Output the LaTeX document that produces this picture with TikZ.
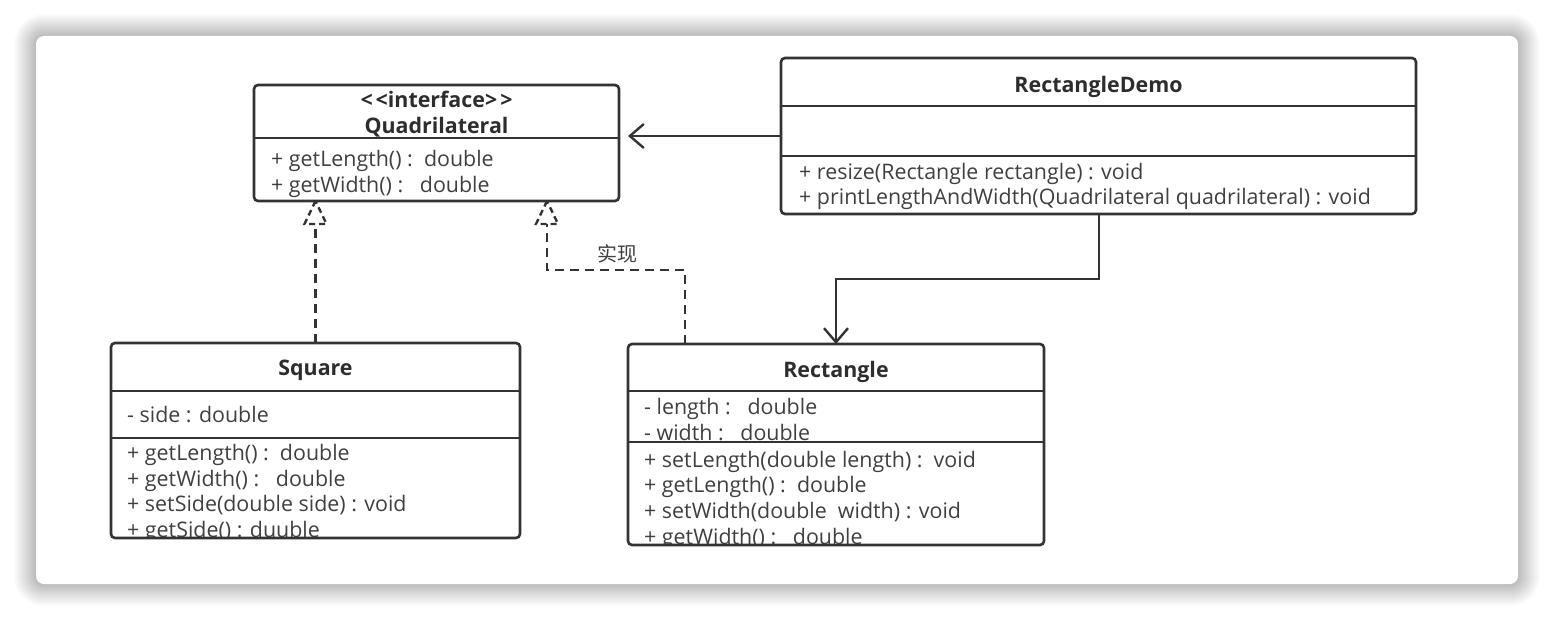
\documentclass[tikz,border=0pt]{standalone}
\usepackage{fontspec}
\setmainfont{Open Sans}
\newfontfamily\cjk{Noto Sans CJK SC}
\usetikzlibrary{arrows.meta}
\definecolor{ln}{HTML}{333333}
\definecolor{tx}{HTML}{404040}
\begin{document}
\begin{tikzpicture}[x=1pt,y=-1pt,
 umlbox/.style={draw=none, fill=white, rounded corners=4pt, anchor=north west, inner sep=0pt, outer sep=0pt},
 boxborder/.style={draw=ln, line width=2.6pt, rounded corners=4pt},
 divider/.style={draw=ln, line width=2.2pt},
 txt/.style={text=tx, font=\fontsize{21.4}{24}\selectfont, anchor=mid west, inner sep=0pt, yshift=-5pt},
 ttl/.style={text=tx!70!black, font=\fontsize{21.4}{24}\selectfont\bfseries, anchor=mid, inner sep=0pt, yshift=-5pt},
 assoc/.style={draw=ln, line width=2.4pt, -{Straight Barb[length=14pt,width=24pt,line width=2.4pt]}},
 realize/.style={draw=ln, line width=2.4pt, dash pattern=on 9pt off 6pt},
 realtip/.style={draw=ln, line width=2.4pt, dash pattern=on 6pt off 4pt, line join=miter},
 lbl/.style={text=tx, font=\cjk\fontsize{20}{22}\selectfont, inner sep=0pt},
]
\useasboundingbox (0,0) rectangle (1554,620);
\fill[white] (0,0) rectangle (1554,620);
% card shadow
\foreach \i in {1,...,22}{
  \fill[black, fill opacity=0.01, rounded corners={8pt+\i pt}] (36-\i,36-\i) rectangle (1518+\i,584+\i);
}
\fill[white, rounded corners=8pt] (36,36) rectangle (1518,584);

% boxes
\node[umlbox, minimum width=365pt, minimum height=116pt] (quad) at (254,85) {};
\node[umlbox, minimum width=635pt, minimum height=156pt] (demo) at (781,58) {};
\node[umlbox, minimum width=409pt, minimum height=195pt] (sq) at (111,343) {};
\node[umlbox, minimum width=416pt, minimum height=201pt] (rect) at (628,344) {};

% Quadrilateral
\node[ttl] (qs) at (quad.north |- 0,100) {{<}\hspace{3pt}{<}interface{>}\hspace{3pt}{>}};
\node[ttl] (qn) at (quad.north |- 0,126) {Quadrilateral};
\draw[divider] (quad.west |- 0,138) -- (quad.east |- 0,138);
\node[txt] (q1) at (271,159) {+ getLength() :\ \ double};
\node[txt] (q2) at (271,185) {+ getWidth() :\ \ \ double};

% RectangleDemo
\node[ttl] (dn) at (demo.north |- 0,85) {RectangleDemo};
\draw[divider] (demo.west |- 0,106) -- (demo.east |- 0,106);
\draw[divider] (demo.west |- 0,156) -- (demo.east |- 0,156);
\node[txt] (d1) at (799,172) {+ resize(Rectangle rectangle) : void};
\node[txt] (d2) at (799,197) {+ printLengthAndWidth(Quadrilateral quadrilateral) : void};

% Square
\node[ttl] (sn) at (sq.north |- 0,368) {Square};
\draw[divider] (sq.west |- 0,391) -- (sq.east |- 0,391);
\node[txt] (s0) at (127,415) {- side : double};
\draw[divider] (sq.west |- 0,438) -- (sq.east |- 0,438);
\begin{scope}
\clip (sq.north west) rectangle (sq.south east);
\node[txt] (s1) at (127,453) {+ getLength() :\ \ double};
\node[txt] (s2) at (127,479) {+ getWidth() :\ \ \ double};
\node[txt] (s3) at (127,504) {+ setSide(double side) : void};
\node[txt] (s4) at (127,530) {+ getSide() : duuble};
\end{scope}

% Rectangle
\node[ttl] (rn) at (rect.north |- 0,370) {Rectangle};
\draw[divider] (rect.west |- 0,391) -- (rect.east |- 0,391);
\node[txt] (r0) at (644,407) {- length :\ \ \ double};
\node[txt] (r1) at (644,433) {- width :\ \ \ double};
\draw[divider] (rect.west |- 0,442) -- (rect.east |- 0,442);
\begin{scope}
\clip (rect.north west) rectangle (rect.south east);
\node[txt] (r2) at (644,460) {+ setLength(double length) :\ \ void};
\node[txt] (r3) at (644,485) {+ getLength() :\ \ double};
\node[txt] (r4) at (644,511) {+ setWidth(double\ \ width) : void};
\node[txt] (r5) at (644,537) {+ getWidth() :\ \ \ double};
\end{scope}

% borders on top
\draw[boxborder] (quad.north west) rectangle (quad.south east);
\draw[boxborder] (demo.north west) rectangle (demo.south east);
\draw[boxborder] (sq.north west) rectangle (sq.south east);
\draw[boxborder] (rect.north west) rectangle (rect.south east);

% associations
\coordinate (qa) at ([xshift=9pt]quad.east |- demo.west);
\draw[assoc] (demo.west) -- (qa);
\coordinate (da) at (1099,214);
\coordinate (db) at (1099,279);
\draw[assoc] (da) -- (db) -- (rect.north |- db) -- (rect.north);

% realizations
\coordinate (t1) at (sq.north |- quad.south);
\draw[realtip] (t1) -- ++(-11,23) -- ++(22,0) -- cycle;
\draw[realize] (sq.north) -- ([yshift=-23pt]t1);
\coordinate (t2) at (547,201);
\coordinate (r2a) at (685,344);
\coordinate (r2b) at (685,270);
\draw[realtip] (t2) -- ++(-11,23) -- ++(22,0) -- cycle;
\draw[realize] (r2a) -- (r2b) -- (t2 |- r2b) -- ([yshift=-23pt]t2);
\node[lbl] (impl) at (617,254) {实现};
\end{tikzpicture}
\end{document}
